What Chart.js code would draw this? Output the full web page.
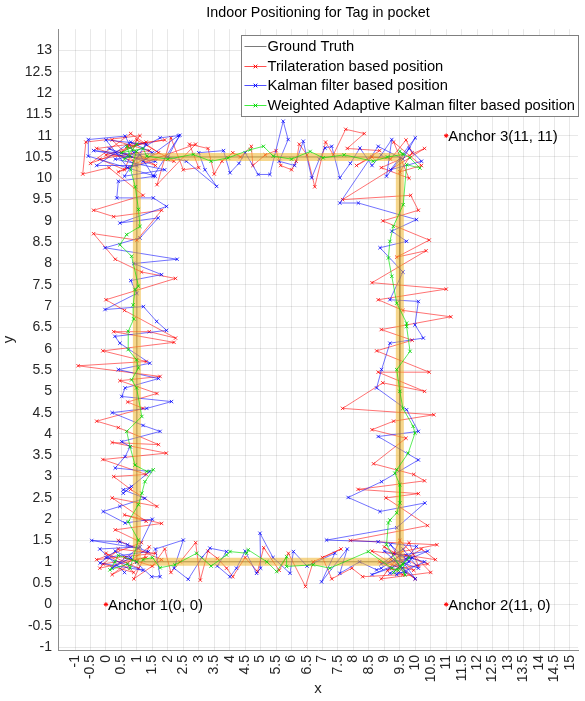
<!DOCTYPE html>
<html>
<head>
<meta charset="utf-8">
<script src="https://cdn.jsdelivr.net/npm/chart.js@4.4.1/dist/chart.umd.min.js"></script>
<style>
  html, body { margin: 0; background: #fff; }
</style>
</head>
<body>
<canvas id="track" width="585" height="701"></canvas>
<script>
// Tag walk around the room, positions in metres.
const gtX = [1, 1, 9.5, 9.5, 1];
const gtY = [1, 10.5, 10.5, 1, 1];

// trilateration fixes: up the left wall, along the top, down the right wall, back along the bottom
const triX = [
  1.05, 0.0, 0.9, -0.1, 1.3, -0.2, 0.4, 1.6, -0.3, 1.15, 0.3, 1.8, 0.6, 1.3, 0.2, 1.65, 0.8, 0.25, 1.3, -0.1,
  1.95, 0.2, 1.7, 0.4, -0.3, 1.2, 0.7, 1.65, 0.45, 1.75, -0.9, 1.3, -0.1, 2.2, 0.25, 1.4, 2.25, 0.6, 0.0, 2.25,
  1.15, 0.3, -0.4, 1.0, 1.8, 0.25, -0.4, 1.2, 0.1, -0.75, -0.65, 1.1, 0.5, 1.6, 0.7, 1.9,
  -0.3, 0.9, 0.2, 1.4, -0.2, 0.6, 1.0, 2.2,
  0.0, 1.3, -0.5, 0.8, 1.7, 0.4,
  2.9, 1.65, 2.1, 2.5, 3.0, 2.7, 3.3, 3.5, 3.75, 4.1, 4.35, 4.7, 4.75, 5.15, 5.5, 5.65, 6.0, 6.15, 6.25, 6.5,
  6.75, 7.1, 7.35, 7.75, 8.35, 7.8, 8.85, 8.1, 8.6, 9.2, 9.7, 9.9, 9.5,
  10.2, 9.3, 9.8, 8.9, 10.3,
  7.65, 9.85, 10.1, 8.95, 10.45, 9.4, 10.35, 8.6, 11.0, 8.8, 9.6, 11.15, 8.9, 9.9, 8.75, 10.45, 8.8, 10.3, 8.95, 7.65,
  10.6, 9.3, 8.6, 9.7, 8.65, 9.95, 10.3, 8.15, 10.1, 9.05, 10.4, 7.9, 10.7, 9.3, 10.65,
  10.2, 9.1, 10.4, 9.7, 8.6, 10.0, 9.2,
  9.5, 10.5, 8.9, 9.8, 10.1, 9.0,
  9.95, 8.85, 9.6, 8.3, 7.95, 7.3, 7.0, 7.6, 6.7, 6.45, 5.9, 5.6, 5.1, 4.9, 4.5, 4.1, 3.9, 3.6, 3.3, 3.05,
  2.9, 2.4, 2.1, 1.9, 1.5, 0.6, 1.0,
  0.2, 1.4, 0.9, 1.8, 0.4];
const triY = [
  0.85, 1.2, 0.75, 0.95, 1.1, 0.85, 1.3, 1.2, 1.05, 1.45, 1.75, 1.9, 2.1, 1.95, 2.5, 2.3, 2.7, 3.0, 3.05, 3.4,
  3.55, 3.8, 3.75, 4.15, 4.3, 4.6, 4.75, 4.95, 5.25, 5.35, 5.6, 5.7, 5.95, 6.15, 6.4, 6.4, 6.25, 6.9, 7.15, 7.65,
  7.8, 8.1, 8.7, 8.55, 9.25, 9.1, 9.25, 9.6, 10.25, 10.1, 10.85, 11.0, 10.6, 10.3, 10.75, 10.9,
  10.7, 10.4, 10.9, 10.65, 10.45, 10.2, 10.9, 10.4,
  10.55, 10.85, 10.35, 11.05, 10.6, 10.15,
  10.8, 9.85, 10.95, 10.2, 10.25, 10.8, 10.7, 10.1, 10.4, 10.6, 10.5, 10.75, 10.3, 10.55, 10.65, 10.3, 10.2, 10.4, 10.8, 10.55,
  9.8, 10.85, 10.55, 11.15, 11.05, 10.7, 10.65, 10.3, 10.5, 10.45, 10.9, 10.6, 10.15,
  10.3, 10.85, 10.0, 10.25, 10.7,
  9.5, 9.6, 9.25, 9.0, 8.55, 8.15, 8.3, 7.55, 7.4, 7.15, 6.9, 6.75, 6.45, 6.2, 5.95, 5.45, 5.45, 5.0, 5.2, 4.6,
  4.45, 4.3, 4.1, 3.9, 3.3, 3.05, 2.9, 2.7, 2.6, 2.5, 1.85, 1.5, 1.4, 1.2, 1.05,
  1.3, 0.8, 0.95, 1.15, 1.25, 0.6, 1.05,
  1.5, 0.75, 0.6, 1.45, 0.9, 1.35,
  0.8, 1.0, 0.7, 0.65, 0.85, 0.6, 1.1, 1.3, 1.0, 0.42, 1.2, 0.8, 1.33, 0.77, 1.1, 0.65, 0.85, 1.08, 1.25, 0.57,
  1.45, 1.0, 0.75, 1.3, 0.9, 1.1, 1.0,
  0.7, 1.35, 0.6, 1.05, 1.5];

// Kalman filtered track
const kfX = [
  1.0, 0.3, -0.19, 1.2, 0.0, 1.37, 0.7, 0.45, -0.46, 1.05, 1.5, 0.62, -0.09, 0.45, 1.26, 0.56, 0.83, 0.56, 1.42, 0.3,
  0.62, 0.78, 0.51, 1.75, 1.2, 0.2, 1.32, 2.12, 0.51, 0.62, 1.7, 0.4, 1.42, 0.45, 0.29, 1.96, 1.64, 1.21, -0.03, 1.0,
  0.8, 1.8, 0.9, 2.3, -0.03, 1.1, 1.69, 0.45, 1.96, 1.53, 0.35, 0.4, 1.59, -0.57, -0.57, 0.62, 0.9, 1.75, 2.34, 1.2,
  0.1, 1.0, -0.3, 0.8, 1.5, 0.3, 1.9, 0.6,
  1.3, 0.0, 0.7, 1.6, -0.4, 1.1,
  1.53, 2.39, 2.0, 2.6, 3.58, 3.2, 3.0, 3.8, 4.01, 4.3, 4.5, 4.92, 5.3, 5.73, 5.89, 5.6, 6.1, 6.38, 6.65, 6.9,
  7.08, 7.3, 7.56, 7.9, 8.21, 8.6, 8.9, 9.24, 9.07, 9.8, 10.2,
  9.2, 10.0, 9.6, 8.8,
  7.56, 8.16, 10.04, 9.24, 9.72, 8.86, 9.6, 9.18, 10.1, 9.99, 10.26, 9.18, 8.91, 8.75, 9.72, 10.1, 8.8, 10.1, 8.91, 7.83,
  8.86, 10.31, 9.4, 7.13, 8.8, 10.04, 9.5, 9.18,
  9.7, 9.3, 10.1, 9.6, 8.9, 9.9, 9.4, 10.3, 9.0,
  10.0, 9.2, 9.8, 8.6, 10.4, 9.5, 8.9,
  8.75, 8.2, 7.56, 7.8, 6.97, 7.4, 6.5, 6.06, 5.95, 5.4, 4.98, 5.0, 4.87, 4.5, 4.22, 4.01, 3.6, 3.9, 3.36, 3.1,
  2.66, 2.2, 2.5, 1.6, 1.75, 1.48, 0.8,
  0.2, 1.1, -0.2, 0.6];
const kfY = [
  1.0, 1.25, 0.97, 0.8, 1.1, 1.24, 1.4, 1.47, 1.5, 1.32, 2.0, 1.91, 2.18, 2.3, 2.49, 2.69, 2.77, 2.61, 3.12, 3.2,
  3.47, 3.7, 3.82, 4.06, 4.2, 4.5, 4.6, 4.76, 4.88, 5.08, 5.3, 5.51, 5.66, 6.13, 6.29, 6.43, 6.64, 6.99, 6.92, 7.3,
  7.6, 7.74, 8.0, 8.1, 8.37, 8.6, 9.07, 8.95, 9.34, 9.54, 9.54, 9.93, 10.05, 10.52, 10.91, 10.99, 10.6, 10.95, 11.0, 10.4,
  10.7, 10.3, 10.3, 10.85, 10.6, 10.45, 10.2, 10.05,
  10.8, 10.9, 10.25, 10.4, 10.65, 10.55,
  10.05, 11.01, 10.5, 10.4, 9.81, 10.2, 10.6, 10.65, 10.13, 10.35, 10.6, 10.09, 10.09, 11.34, 10.91, 10.4, 10.3, 10.87, 10.01, 10.45,
  10.71, 10.75, 10.01, 10.35, 10.71, 10.3, 10.55, 10.91, 10.05, 10.7, 10.4,
  10.2, 10.95, 10.45, 10.75,
  9.42, 9.42, 9.03, 8.76, 8.52, 8.37, 7.8, 7.15, 7.11, 6.56, 6.25, 6.13, 5.51, 5.08, 4.57, 4.06, 3.94, 3.39, 2.88, 2.51,
  2.18, 2.38, 1.8, 1.51, 1.47, 1.36, 0.89, 0.73,
  0.75, 1.05, 0.85, 1.3, 0.95, 1.1, 0.7, 1.0, 1.25,
  0.6, 1.4, 1.0, 0.7, 1.25, 1.15, 0.85,
  0.81, 1.0, 0.73, 1.3, 0.53, 1.2, 0.9, 1.24, 0.73, 1.1, 1.67, 0.85, 0.73, 1.25, 0.85, 0.65, 0.9, 1.24, 1.32, 1.1,
  0.59, 0.85, 1.51, 1.3, 0.65, 0.65, 1.1,
  0.85, 1.35, 1.3, 0.75];

// weighted adaptive Kalman track
const wakfX = [
  1.0, 0.4, 0.29, 0.13, 0.7, 0.78, 1.05, 0.72, 1.05, 1.16, 1.26, 1.53, 1.32, 0.94, 0.78, 0.67, 1.16, 0.99, 0.83, 1.05,
  0.99, 0.72, 0.72, 0.9, 0.88, 0.94, 1.05, 0.83, 0.45, 0.67, 1.1, 1.05, 0.95, 0.8, 0.99, 0.67, 0.78, 0.6, 1.0, 0.5, 1.2,
  1.32, 2.0, 2.82, 3.4, 3.95, 4.66, 5.09, 5.41, 6.0, 6.6, 7.02, 7.7, 8.64, 9.1, 9.61, 9.5, 9.83, 10.15, 9.72,
  9.61, 9.29, 9.18, 9.13, 9.24, 9.4, 9.72, 9.72, 9.83, 9.4, 9.5, 9.6, 9.93, 9.99, 9.77, 9.4, 9.34, 9.5, 9.5, 9.4,
  9.18, 9.13, 9.07, 9.67, 9.6, 9.3, 9.8, 9.45, 9.24,
  8.48, 7.24, 6.7, 5.84, 5.84, 5.52, 5.2, 4.6, 4.55, 4.01, 3.9, 3.4, 2.93, 2.23, 1.75, 1.5, 1.2];
const wakfY = [
  1.0, 1.15, 1.0, 0.81, 0.95, 0.85, 1.51, 1.94, 2.34, 2.61, 2.88, 3.16, 3.12, 3.27, 3.7, 4.06, 4.41, 5.08, 5.27, 5.55,
  5.74, 5.98, 6.41, 6.7, 7.03, 7.39, 7.47, 8.17, 8.44, 8.68, 8.87, 9.27, 9.8, 10.2, 10.63, 10.75, 10.52, 10.45, 10.8, 10.6, 10.7,
  10.52, 10.45, 10.56, 10.4, 10.48, 10.67, 10.75, 10.52, 10.45, 10.63, 10.48, 10.55, 10.4, 10.5, 10.56, 10.63, 10.48, 10.24, 10.32,
  9.38, 8.87, 8.52, 8.13, 7.7, 7.07, 6.6, 6.52, 5.94, 5.51, 5.0, 4.6, 4.18, 4.02, 3.55, 3.16, 3.08, 2.81, 2.38, 2.15,
  1.98, 1.91, 1.4, 0.69, 0.95, 0.75, 1.1, 0.8, 0.85,
  1.24, 0.85, 0.93, 0.89, 1.12, 0.77, 1.0, 1.28, 1.2, 1.24, 1.16, 0.9, 1.2, 0.93, 0.86, 1.1, 1.05];

const anchorX = [0, 11, 11];
const anchorY = [0, 0, 11];
const anchorNames = ['Anchor 1(0, 0)', 'Anchor 2(11, 0)', 'Anchor 3(11, 11)'];

const xTicks = [-1, -0.5, 0, 0.5, 1, 1.5, 2, 2.5, 3, 3.5, 4, 4.5, 5, 5.5, 6, 6.5, 7, 7.5, 8, 8.5,
  9, 9.5, 10, 10.5, 11, 11.5, 12, 12.5, 13, 13.5, 14, 14.5, 15];
const yTicks = [-1, -0.5, 0, 0.5, 1, 1.5, 2, 2.5, 3, 3.5, 4, 4.5, 5, 5.5, 6, 6.5, 7, 7.5, 8, 8.5,
  9, 9.5, 10, 10.5, 11, 11.5, 12, 12.5, 13];

const seriesNames = ['Ground Truth', 'Trilateration based position', 'Kalman filter based position',
  'Weighted Adaptive Kalman filter based position'];

const FONT = "'Liberation Sans', Arial, Helvetica, sans-serif";
const INK = '#262626';
const COLORS = {
  gt: 'rgba(110,110,110,0.9)',
  triLine: 'rgba(255,0,0,0.62)', triMark: 'rgba(255,0,0,0.85)',
  kfLine: 'rgba(0,0,255,0.62)', kfMark: 'rgba(0,0,255,0.85)',
  wLine: 'rgba(0,225,0,0.72)', wMark: 'rgba(0,210,0,0.9)',
  band: 'rgba(237,177,32,0.52)',
};

const pts = (xs, ys) => xs.map((x, i) => ({ x, y: ys[i] }));

const track = (label, xs, ys, color, markColor) => ({
  label,
  data: pts(xs, ys),
  showLine: true,
  borderColor: color,
  borderWidth: 0.9,
  pointStyle: 'crossRot',
  pointRadius: 2.4,
  pointBorderWidth: 0.9,
  pointBorderColor: markColor,
  pointBackgroundColor: markColor,
});

const datasets = [
  { label: 'anchors', data: pts(anchorX, anchorY), pointStyle: 'star', pointRadius: 2.2,
    pointBorderWidth: 1, pointBorderColor: '#ff0000', showLine: false },
  track(seriesNames[3], wakfX, wakfY, COLORS.wLine, COLORS.wMark),
  { label: 'band', data: pts(gtX, gtY), showLine: true, borderColor: COLORS.band,
    borderWidth: 8, borderJoinStyle: 'miter', pointRadius: 0 },
  track(seriesNames[2], kfX, kfY, COLORS.kfLine, COLORS.kfMark),
  track(seriesNames[1], triX, triY, COLORS.triLine, COLORS.triMark),
  { label: seriesNames[0], data: pts(gtX, gtY), showLine: true, borderColor: COLORS.gt,
    borderWidth: 1, pointRadius: 0 },
];

// legend box in the upper right corner plus anchor captions
const overlay = {
  id: 'overlay',
  afterDatasetsDraw(chart) {
    const { ctx, chartArea, scales } = chart;
    ctx.save();
    ctx.font = '15px ' + FONT;
    ctx.textBaseline = 'middle';
    ctx.fillStyle = '#000';
    anchorNames.forEach((name, i) => {
      ctx.fillText(name, scales.x.getPixelForValue(anchorX[i]) + 2, scales.y.getPixelForValue(anchorY[i]) + 1);
    });

    ctx.font = '14.7px ' + FONT;
    const styles = [
      { line: '#7a7a7a', mark: null },
      { line: '#ff5050', mark: '#ff0000' },
      { line: '#5050ff', mark: '#0000ff' },
      { line: '#40ee40', mark: '#00d000' },
    ];
    const textW = Math.max(...seriesNames.map(s => ctx.measureText(s).width));
    const rowH = 19.5;
    const boxW = 26 + textW + 3;
    const boxH = rowH * seriesNames.length + 3;
    const right = chartArea.right;
    const left = right - boxW;
    const top = chartArea.top + 6;
    ctx.fillStyle = '#fff';
    ctx.fillRect(left, top, boxW, boxH);
    ctx.strokeStyle = '#7f7f7f';
    ctx.lineWidth = 1;
    ctx.strokeRect(Math.round(left) + 0.5, Math.round(top) + 0.5, Math.round(boxW), Math.round(boxH));
    seriesNames.forEach((name, i) => {
      const y = Math.round(top + 11 + i * rowH) + 0.5;
      ctx.strokeStyle = styles[i].line;
      ctx.lineWidth = 1;
      ctx.beginPath();
      ctx.moveTo(left + 3, y);
      ctx.lineTo(left + 25, y);
      ctx.stroke();
      if (styles[i].mark) {
        const cx = left + 14, r = 1.8;
        ctx.strokeStyle = styles[i].mark;
        ctx.beginPath();
        ctx.moveTo(cx - r, y - r); ctx.lineTo(cx + r, y + r);
        ctx.moveTo(cx - r, y + r); ctx.lineTo(cx + r, y - r);
        ctx.stroke();
      }
      ctx.fillStyle = '#000';
      ctx.fillText(name, left + 26, y + 0.5);
    });
    ctx.restore();
  }
};

new Chart(document.getElementById('track'), {
  type: 'scatter',
  data: { datasets },
  plugins: [overlay],
  options: {
    responsive: false,
    animation: false,
    devicePixelRatio: 1,
    layout: { padding: { left: 0, right: 7, top: 0, bottom: 0 } },
    elements: { line: { tension: 0 } },
    plugins: {
      legend: { display: false },
      tooltip: { enabled: false },
      title: {
        display: true,
        text: 'Indoor Positioning for Tag in pocket',
        color: '#000',
        fullSize: false,
        font: { family: FONT, size: 14.3, weight: 'normal' },
        padding: { top: 4, bottom: 8 },
      },
    },
    scales: {
      x: {
        type: 'linear',
        min: -1.55,
        max: 15.26,
        afterBuildTicks: s => { s.ticks = xTicks.map(v => ({ value: v })); },
        afterFit: s => { s.height = 51; s.paddingLeft = 0; s.paddingRight = 0; },
        ticks: {
          autoSkip: false, minRotation: 90, maxRotation: 90, padding: 5,
          color: INK, font: { family: FONT, size: 14 },
          callback: v => String(v),
        },
        grid: { color: 'rgba(0,0,0,0.09)', drawTicks: false },
        border: { color: '#8c8c8c' },
        title: { display: true, text: 'x', color: INK, font: { family: FONT, size: 15 }, padding: { top: 0, bottom: 3 } },
      },
      y: {
        type: 'linear',
        min: -1.07,
        max: 13.5,
        afterBuildTicks: s => { s.ticks = yTicks.map(v => ({ value: v })); },
        afterFit: s => { s.width = 58; s.paddingTop = 0; s.paddingBottom = 0; },
        ticks: {
          autoSkip: false, padding: 6,
          color: INK, font: { family: FONT, size: 14 },
          callback: v => String(v),
        },
        grid: { color: 'rgba(0,0,0,0.09)', drawTicks: false },
        border: { color: '#8c8c8c' },
        title: { display: true, text: 'y', color: INK, font: { family: FONT, size: 15 }, padding: { top: 0, bottom: 0 } },
      },
    },
  },
});
</script>
</body>
</html>
